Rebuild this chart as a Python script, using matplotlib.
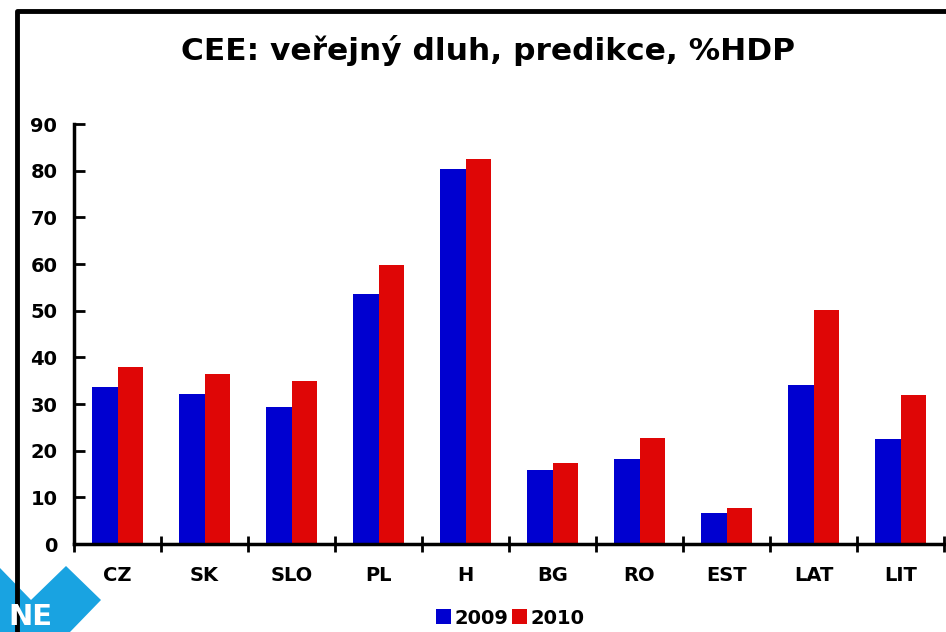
import matplotlib.pyplot as plt
import numpy as np
from matplotlib.patches import Polygon
from matplotlib.lines import Line2D

# data
countries = ["CZ", "SK", "SLO", "PL", "H", "BG", "RO", "EST", "LAT", "LIT"]
debt_2009 = [33.6, 32.1, 29.4, 53.6, 80.4, 15.9, 18.2, 6.6, 34.1, 22.5]
debt_2010 = [37.9, 36.4, 34.9, 59.8, 82.5, 17.4, 22.7, 7.7, 50.1, 31.9]
yticks = [0, 10, 20, 30, 40, 50, 60, 70, 80, 90]

W, H = 946, 632
fig = plt.figure(figsize=(W / 100, H / 100), dpi=100)

# background layer in pixel coordinates for the frame and logo
bg = fig.add_axes([0, 0, 1, 1], zorder=0)
bg.set_xlim(0, W)
bg.set_ylim(H, 0)
bg.axis("off")
logo = Polygon([(0, 568), (31, 600), (66, 566), (101, 600), (70, 632), (0, 632)],
               closed=True, facecolor="#19a3e1", edgecolor="none")
bg.add_patch(logo)
bg.text(8, 631, "NE", color="white", fontsize=21, fontweight="bold",
        ha="left", va="bottom")
bg.add_line(Line2D([17, 17, W + 5], [H + 5, 11, 11], color="black", lw=3.5))

ax = fig.add_axes([74 / W, 1 - 544 / H, 870 / W, 420 / H], zorder=1)
ax.set_facecolor("none")

x = np.arange(len(countries))
bw = 0.29
ax.bar(x - bw / 2, debt_2009, bw, color="#0000d0", label="2009")
ax.bar(x + bw / 2, debt_2010, bw, color="#df0606", label="2010")

ax.set_xlim(-0.5, len(countries) - 0.5)
ax.set_ylim(0, 90)
ax.set_yticks(yticks)
ax.set_yticklabels([str(v) for v in yticks], fontsize=14, fontweight="bold")
ax.tick_params(axis="y", direction="in", length=8, width=2, pad=12)

# category boundaries carry the x ticks
ax.set_xticks(np.arange(len(countries) + 1) - 0.5)
ax.set_xticklabels([])
ax.tick_params(axis="x", direction="inout", length=12, width=2)
for i, c in enumerate(countries):
    ax.text(i, -6.8, c, ha="center", va="center", fontsize=14, fontweight="bold")

for s in ["top", "right"]:
    ax.spines[s].set_visible(False)
ax.spines["left"].set_linewidth(2.5)
ax.spines["bottom"].set_linewidth(2.5)

fig.text(488 / W, 1 - 51 / H, "CEE: veřejný dluh, predikce, %HDP",
         ha="center", va="center", fontsize=22.5, fontweight="bold")

leg = fig.legend(loc="center", bbox_to_anchor=(510 / W, 1 - 618 / H), ncol=2,
                 frameon=False, prop={"size": 14, "weight": "bold"},
                 handlelength=0.8, handleheight=0.8, handletextpad=0.15,
                 columnspacing=0.2)

fig.savefig("out.png", dpi=100)
